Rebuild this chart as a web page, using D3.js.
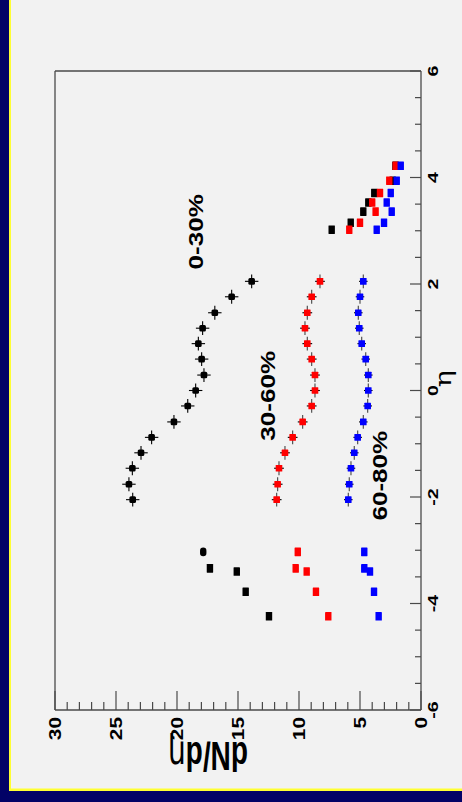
<!DOCTYPE html>
<html><head><meta charset="utf-8">
<script src="https://cdn.jsdelivr.net/npm/d3@7"></script>
<style>
html,body{margin:0;padding:0;background:#f2f2f2;}
svg{display:block;}
</style></head>
<body>
<script>
// ---- data ----
const etaCentral = [-2.05,-1.76,-1.46,-1.17,-0.88,-0.59,-0.29,0,0.29,0.59,0.88,1.17,1.46,1.76,2.05];
const central0_30  = [23.63,23.94,23.66,22.95,22.08,20.25,19.12,18.47,17.79,17.98,18.25,17.90,16.90,15.52,13.88];
const central30_60 = [11.83,11.75,11.64,11.15,10.52,9.70,8.96,8.69,8.69,8.96,9.32,9.51,9.32,8.96,8.28];
const central60_80 = [5.96,5.88,5.74,5.47,5.19,4.73,4.37,4.32,4.32,4.53,4.86,5.06,5.14,5.00,4.73];

const etaBackward = [-4.24,-3.78,-3.40,-3.34,-3.03];
const backward0_30  = [12.46,14.37,15.10,17.30,17.85];
const backward30_60 = [7.60,8.61,9.37,10.27,10.10];
const backward60_80 = [3.47,3.85,4.18,4.65,4.65];

const etaForward = [3.02,3.15,3.36,3.53,3.71,3.94,4.22];
const forward0_30  = [7.32,5.76,4.73,4.32,3.83,2.32,2.10];
const forward30_60 = [5.88,5.00,3.72,4.00,3.36,2.60,2.08];
const forward60_80 = [3.63,3.03,2.40,2.81,2.48,1.99,1.66];

const centralValErr = [0.55,0.40,0.35];
const etaErr = 0.13;

const seriesNames = ["0-30%","30-60%","60-80%"];
const seriesColors = ["#000000","#ff0000","#0000ff"];
const labelEta = [2.98, -0.10, -1.6];
const labelVal = [17.9, 12.0, 2.8];

const etaTicks = [-6,-4,-2,0,2,4,6];
const valTicks = [0,5,10,15,20,25,30];

// ---- layout ----
const W = 462, H = 802;
const svg = d3.select("body").append("svg").attr("width", W).attr("height", H);
svg.append("rect").attr("width", W).attr("height", H).attr("fill", "#f2f2f2");
// border
svg.append("rect").attr("x",0).attr("y",0).attr("width",9).attr("height",H).attr("fill","#020266");
svg.append("rect").attr("x",0).attr("y",791).attr("width",W).attr("height",11).attr("fill","#020266");
svg.append("rect").attr("x",9).attr("y",0).attr("width",2).attr("height",791).attr("fill","#ffff33");
svg.append("rect").attr("x",9).attr("y",788.5).attr("width",W-9).attr("height",2.5).attr("fill","#ffff33");

const L = 55, R = 421, T = 71, B = 710;
const yEta = d3.scaleLinear().domain([-6,6]).range([B,T]);
const xVal = d3.scaleLinear().domain([0,30]).range([R,L]);

const frameColor = "#4a4a4a";
// frame
svg.append("line").attr("x1",L).attr("x2",R).attr("y1",T).attr("y2",T).attr("stroke",frameColor).attr("stroke-width",1.3);
svg.append("line").attr("x1",L).attr("x2",L).attr("y1",T).attr("y2",B).attr("stroke",frameColor).attr("stroke-width",1.3);

// eta axis (right)
const ga = svg.append("g").attr("transform",`translate(${R},0)`);
ga.append("line").attr("x1",0).attr("x2",0).attr("y1",T).attr("y2",B).attr("stroke",frameColor).attr("stroke-width",1.3);
ga.selectAll("line.t").data(d3.range(-6,6.01,0.5)).join("line")
  .attr("class","t")
  .attr("x1",0).attr("x2",d=> (Math.abs(d%2)<1e-9)? -11 : -6)
  .attr("y1",d=>yEta(d)).attr("y2",d=>yEta(d))
  .attr("stroke",frameColor).attr("stroke-width",1.2);
ga.selectAll("text").data(etaTicks).join("text")
  .attr("transform",d=>`translate(${438-R},${yEta(d)}) scale(1,1.4) rotate(-90)`)
  .attr("text-anchor","middle")
  .attr("font-family","Liberation Sans, Arial, sans-serif")
  .attr("font-weight","bold").attr("font-size",14)
  .attr("fill","#000")
  .text(d=>d);

// eta title
svg.append("text")
  .attr("transform",`translate(451,${yEta(0.22)}) scale(1,1.3) rotate(-90)`)
  .attr("text-anchor","middle")
  .attr("font-family","DejaVu Serif, serif").attr("font-size",22)
  .attr("fill","#000").text("η");

// value axis (bottom)
const gb = svg.append("g").attr("transform",`translate(0,${B})`);
gb.append("line").attr("x1",L).attr("x2",R).attr("y1",0).attr("y2",0).attr("stroke",frameColor).attr("stroke-width",1.3);
gb.selectAll("line.t").data(d3.range(0,30.01,1)).join("line")
  .attr("class","t")
  .attr("x1",d=>xVal(d)).attr("x2",d=>xVal(d))
  .attr("y1",0).attr("y2",d=> d%5===0 ? -19 : -8)
  .attr("stroke",frameColor).attr("stroke-width",1.2);
gb.selectAll("text").data(valTicks).join("text")
  .attr("transform",d=>`translate(${xVal(d)},7) scale(1,1.3) rotate(-90)`)
  .attr("text-anchor","end").attr("dy","0.36em")
  .attr("font-family","Liberation Sans, Arial, sans-serif")
  .attr("font-weight","bold").attr("font-size",16)
  .attr("fill","#000").text(d=>d);

// y title (rotated 180)
const tt = svg.append("text")
  .attr("transform",`translate(208,742) scale(1,1.45) rotate(180)`)
  .attr("text-anchor","middle")
  .attr("font-family","Liberation Sans, Arial, sans-serif")
  .attr("font-weight","bold").attr("font-size",28).attr("fill","#000");
tt.append("tspan").text("dN/d");
tt.append("tspan").attr("font-weight","normal").attr("font-family","DejaVu Sans, sans-serif").text("η");

// ---- data marks ----
const central = [central0_30, central30_60, central60_80];
const backward = [backward0_30, backward30_60, backward60_80];
const forward = [forward0_30, forward30_60, forward60_80];

central.forEach((vals,si)=>{
  const g = svg.append("g");
  const col = seriesColors[si];
  const pts = etaCentral.map((e,i)=>({e, v: vals[i]}));
  g.selectAll("line.h").data(pts).join("line")
    .attr("x1",d=>xVal(d.v-centralValErr[si])).attr("x2",d=>xVal(d.v+centralValErr[si]))
    .attr("y1",d=>yEta(d.e)).attr("y2",d=>yEta(d.e))
    .attr("stroke","#000").attr("stroke-width",1.1);
  g.selectAll("line.v").data(pts).join("line")
    .attr("x1",d=>xVal(d.v)).attr("x2",d=>xVal(d.v))
    .attr("y1",d=>yEta(d.e-etaErr)).attr("y2",d=>yEta(d.e+etaErr))
    .attr("stroke", si===0 ? "#000" : "#444").attr("stroke-width",1.1);
  g.selectAll("rect").data(pts).join("rect")
    .attr("x",d=>xVal(d.v)-3.3).attr("y",d=>yEta(d.e)-3.3)
    .attr("width",6.6).attr("height",6.6)
    .attr("rx", si===0 ? 1.5 : 0.5)
    .attr("fill",col);
});

[0,1,2].forEach(si=>{
  const col = seriesColors[si];
  const g = svg.append("g");
  const bpts = etaBackward.map((e,i)=>({e, v: backward[si][i]}));
  const fpts = etaForward.map((e,i)=>({e, v: forward[si][i]}));
  const all = bpts.concat(fpts);
  g.selectAll("rect").data(all).join("rect")
    .attr("x",d=>xVal(d.v)-3.2).attr("y",d=>yEta(d.e)-4.3)
    .attr("width",6.4).attr("height",8.6)
    .attr("rx",(d)=> (si===0 && d.e===-3.03) ? 3.2 : 0.4)
    .attr("fill",col);
});

// series labels
seriesNames.forEach((name,i)=>{
  svg.append("text")
    .attr("transform",`translate(${xVal(labelVal[i])},${yEta(labelEta[i])}) scale(1,1.24) rotate(-90)`)
    .attr("text-anchor","middle")
    .attr("font-family","Liberation Sans, Arial, sans-serif")
    .attr("font-weight","bold").attr("font-size",21)
    .attr("fill","#000").text(name);
});
</script>
</body></html>
